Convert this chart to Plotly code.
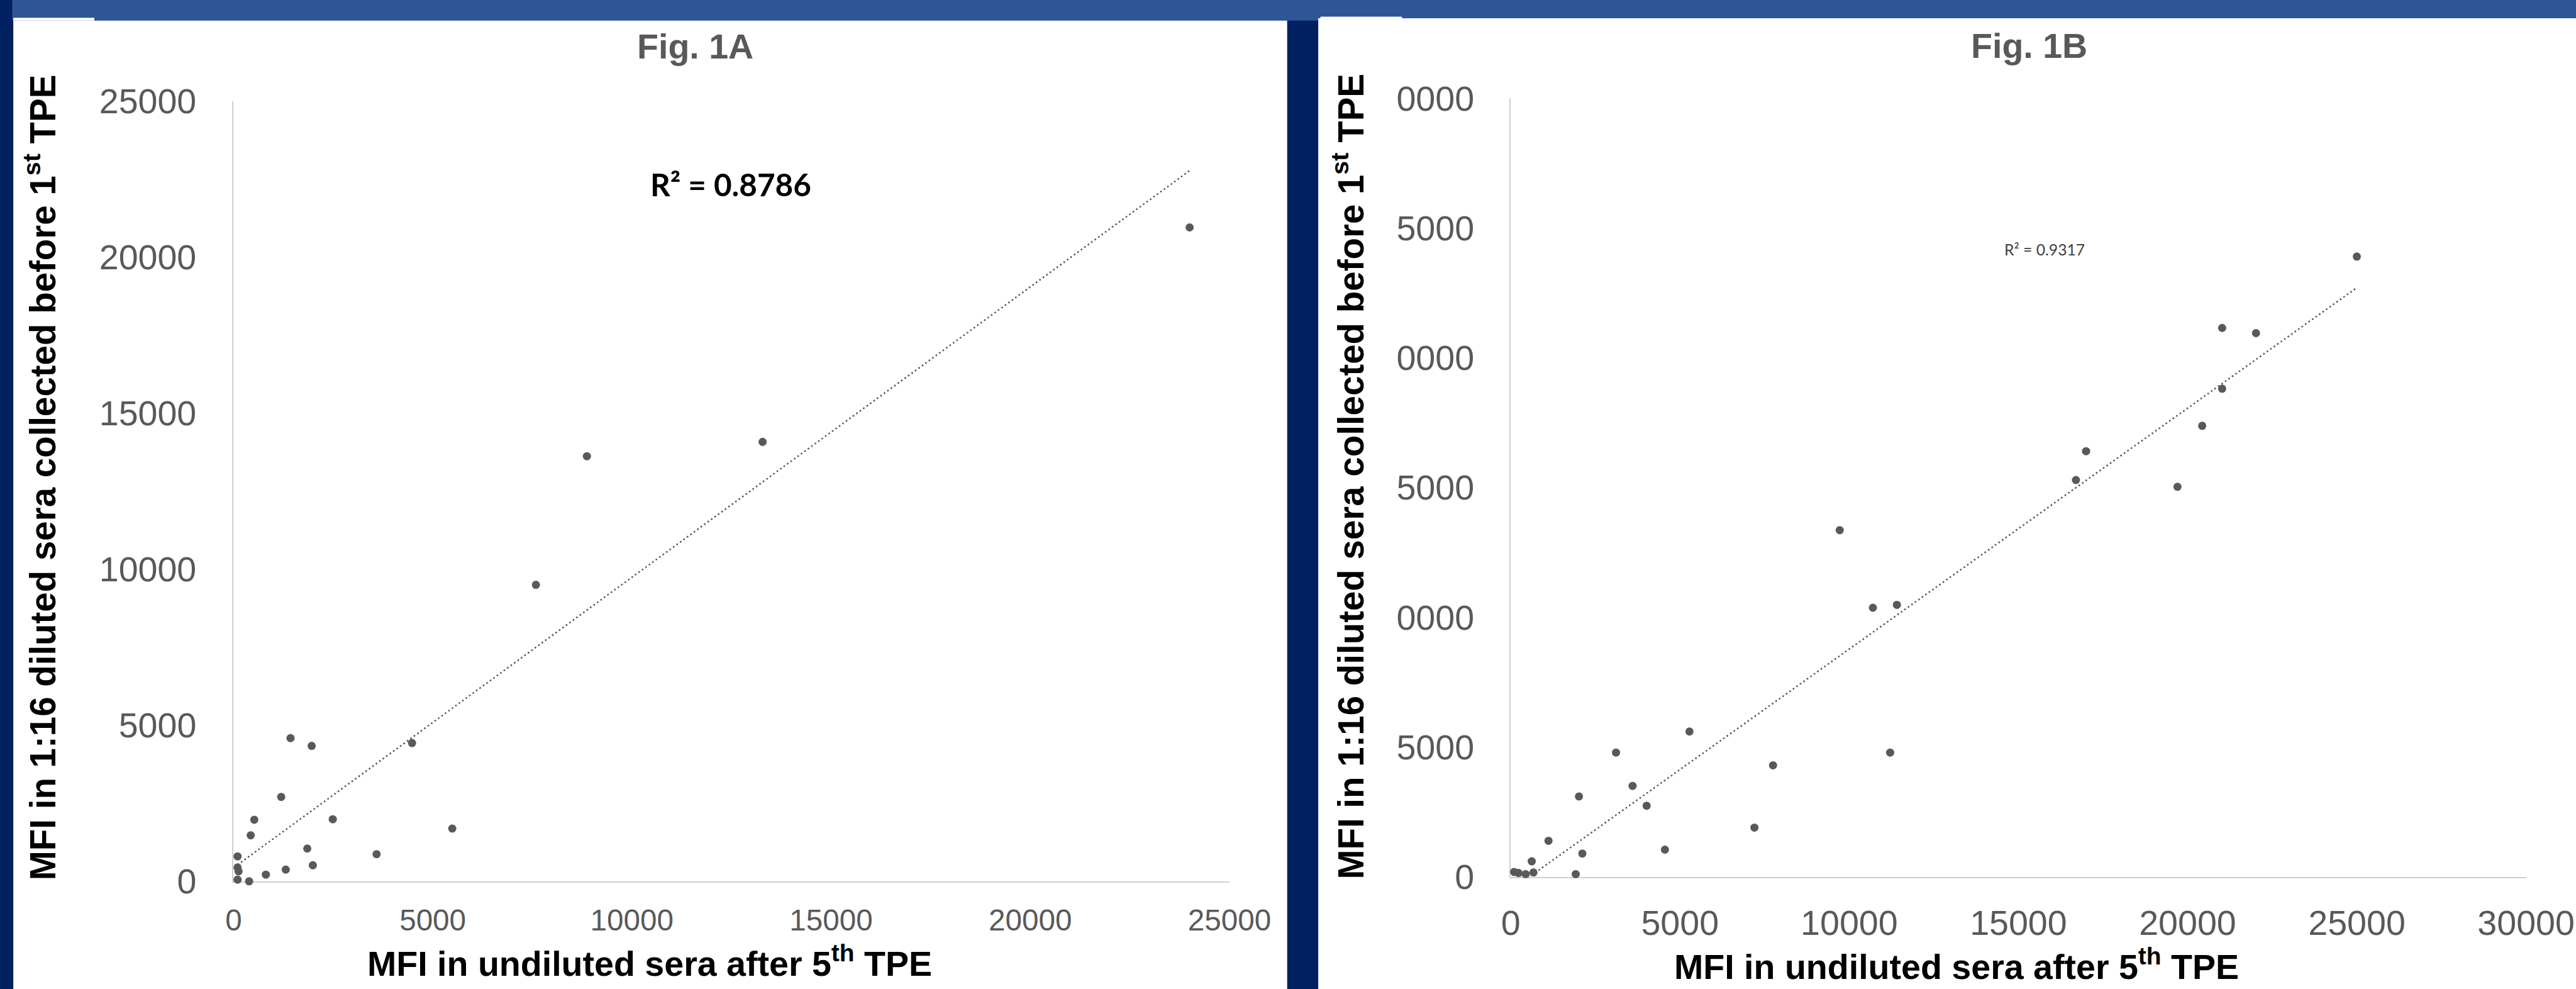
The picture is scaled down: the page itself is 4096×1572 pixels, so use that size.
import numpy as np
import plotly.graph_objects as go

# ---------------- canvas ----------------
W, H = 4096, 1572          # output window
RW, RH = 4643, 1782        # reference size (pixel positions below are measured in it)
S = W / RW                 # scale factor

# ---------------- data : Fig. 1A ----------------
a_x = [24000, 13280, 8870, 7590, 4480, 1430, 1960, 1195, 520, 2490, 5490,
       430, 1850, 3590, 100, 1990, 100, 125, 1310, 810, 100, 390]
a_y = [20950, 14080, 13620, 9500, 4430, 4590, 4340, 2705, 1975, 1990, 1690,
       1475, 1050, 870, 800, 515, 445, 320, 375, 215, 55, 0]

# ---------------- data : Fig. 1B ----------------
b_x = [25000, 21020, 22020, 21020, 20430, 17000, 16700, 19700, 9720, 10700,
       11410, 5280, 3110, 11210, 7750, 3600, 2015, 4015, 7200, 1115, 4555,
       2115, 620, 1920, 100, 230, 440, 670]
b_y = [23900, 21150, 20950, 18810, 17380, 16400, 15290, 15030, 13360, 10370,
       10480, 5600, 4790, 4790, 4300, 3505, 3100, 2740, 1900, 1390, 1050,
       900, 600, 107, 190, 150, 107, 170]

# ---------------- axes / labels ----------------
a_ticks = [0, 5000, 10000, 15000, 20000, 25000]
a_ticktext = ["0", "5000", "10000", "15000", "20000", "25000"]
b_ticks = [0, 5000, 10000, 15000, 20000, 25000, 30000]
b_xticktext = ["0", "5000", "10000", "15000", "20000", "25000", "30000"]
b_yticktext = ["0", "5000", "0000", "5000", "0000", "5000", "0000"]

title_a = "Fig. 1A"
title_b = "Fig. 1B"
x_title = "MFI in undiluted sera after 5<sup>th</sup> TPE"
y_title = "MFI in 1:16 diluted sera collected before 1<sup>st</sup> TPE"
r2_a = "R² = 0.8786"
r2_b = "R² = 0.9317"

# ---------------- styles ----------------
NAVY = "#002060"
BAND = "#2F5597"
GREY = "#595959"
AXIS = "#D0D0D0"
ARIAL = "Liberation Sans, Arial, sans-serif"
CALIBRI = "Lato, Carlito, Calibri, sans-serif"


def px(x):
    return x / RW


def py(y):
    return 1 - y / RH


def trend(xs, ys):
    k, b = np.polyfit(xs, ys, 1)
    x0, x1 = min(xs), max(xs)
    return [x0, x1], [k * x0 + b, k * x1 + b]


fig = go.Figure()

marker = dict(size=13, color=GREY, line=dict(width=0))
dotline = dict(color=GREY, width=2.6, dash="2.6px,4.2px")

ta_x, ta_y = trend(a_x, a_y)
tb_x, tb_y = trend(b_x, b_y)

fig.add_trace(go.Scatter(x=ta_x, y=ta_y, mode="lines", line=dotline,
                         xaxis="x", yaxis="y", hoverinfo="skip"))
fig.add_trace(go.Scatter(x=a_x, y=a_y, mode="markers", marker=marker,
                         xaxis="x", yaxis="y", cliponaxis=False))
fig.add_trace(go.Scatter(x=tb_x, y=tb_y, mode="lines", line=dotline,
                         xaxis="x2", yaxis="y2", hoverinfo="skip"))
fig.add_trace(go.Scatter(x=b_x, y=b_y, mode="markers", marker=marker,
                         xaxis="x2", yaxis="y2", cliponaxis=False))

axis_common = dict(showline=True, linecolor=AXIS, linewidth=2, showgrid=False,
                   zeroline=False, ticks="", layer="below traces",
                   fixedrange=True, automargin=False)

fig.update_layout(
    template="none",
    width=W, height=H,
    autosize=False,
    margin=dict(l=0, r=0, t=0, b=0, pad=0),
    paper_bgcolor=NAVY,
    plot_bgcolor="rgba(0,0,0,0)",
    showlegend=False,
    xaxis=dict(axis_common, domain=[px(421), px(2216)], range=[0, 25000],
               anchor="y", tickvals=a_ticks, ticktext=a_ticktext,
               tickfont=dict(family=ARIAL, size=54 * S, color=GREY),
               ticklabelstandoff=19),
    yaxis=dict(axis_common, domain=[py(1588), py(182)], range=[0, 25000],
               anchor="x", tickvals=a_ticks, ticktext=a_ticktext,
               tickfont=dict(family=ARIAL, size=63 * S, color=GREY),
               ticklabelstandoff=46),
    xaxis2=dict(axis_common, domain=[px(2723), px(4553)], range=[0, 30000],
                anchor="y2", tickvals=b_ticks, ticktext=b_xticktext,
                tickfont=dict(family=ARIAL, size=63 * S, color=GREY),
                ticklabelstandoff=24),
    yaxis2=dict(axis_common, domain=[py(1580), py(177)], range=[0, 30000],
                anchor="x2", tickvals=b_ticks, ticktext=b_yticktext,
                tickfont=dict(family=ARIAL, size=63 * S, color=GREY),
                ticklabelstandoff=45),
)

# ---------------- background panels ----------------
def rect(x0, y0, x1, y1, color):
    fig.add_shape(type="rect", xref="paper", yref="paper",
                  x0=px(x0), x1=px(x1), y0=py(y1), y1=py(y0),
                  fillcolor=color, line=dict(width=0), layer="below")

rect(22, 0, RW, 37, BAND)
rect(24, 37, 2320, RH, "white")
rect(24, 32, 170, 37, "white")
rect(2376, 33, RW, RH, "white")
rect(2380, 30, 2527, 33, "white")

# ---------------- text ----------------
def note(text, x, y, size, color, family=ARIAL, angle=0, yanchor="middle"):
    fig.add_annotation(text=text, x=px(x), y=py(y), xref="paper", yref="paper",
                       xanchor="center", yanchor=yanchor, showarrow=False,
                       textangle=angle,
                       font=dict(family=family, size=size * S, color=color))

note("<b>%s</b>" % title_a, 1253, 84, 63, GREY)
note("<b>%s</b>" % title_b, 3657, 83, 63, GREY)
note("<b>%s</b>" % x_title, 1171, 1774, 63, "black", yanchor="bottom")
note("<b>%s</b>" % x_title, 3527, 1780, 63, "black", yanchor="bottom")
note("<b>%s</b>" % y_title, 72, 860, 64, "black", angle=-90)
note("<b>%s</b>" % y_title, 2430, 858, 64, "black", angle=-90)
note("<b>%s</b>" % r2_a, 1317, 332, 56, "black", family=CALIBRI)
note(r2_b, 3685, 449, 28, "#404040", family=CALIBRI)

fig.write_html("out.html",
               config={"displayModeBar": False},
               post_script="document.body.style.margin='0';"
                           "document.body.style.overflow='hidden';")
